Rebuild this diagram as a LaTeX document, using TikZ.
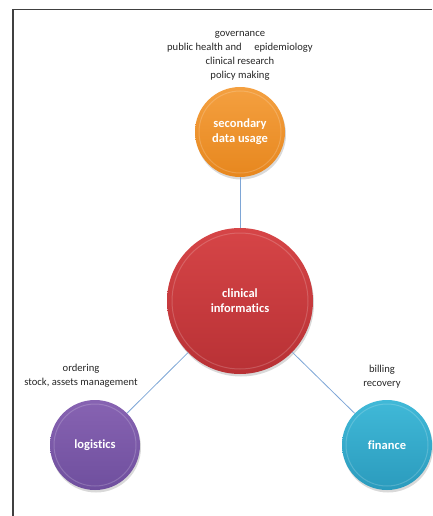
\documentclass[tikz,border=0pt]{standalone}
\usepackage{fontspec}
\setmainfont{Carlito}[Ligatures=CommonOff]
\usetikzlibrary{shadows}
\definecolor{linkblue}{HTML}{7EA6D6}
\definecolor{orangetop}{HTML}{F4A040}
\definecolor{orangebot}{HTML}{E7871E}
\definecolor{redtop}{HTML}{D64547}
\definecolor{redbot}{HTML}{B83135}
\definecolor{purpletop}{HTML}{8763B2}
\definecolor{purplebot}{HTML}{6F4F9E}
\definecolor{bluetop}{HTML}{40B9D8}
\definecolor{bluebot}{HTML}{2B9BBD}
\begin{document}
\begin{tikzpicture}[x=1pt,y=-1pt,
  ball/.style={circle,minimum size=90pt,inner sep=0pt,text=white,align=center,
    font=\bfseries\fontsize{12.5}{15}\selectfont,
    drop shadow={opacity=0.3,shadow xshift=1pt,shadow yshift=-2.5pt}},
  rim/.style={white,opacity=0.18,line width=1pt},
  note/.style={align=center,inner sep=0pt,text=black!85,font=\fontsize{10.6}{14}\selectfont},
  link/.style={draw=linkblue,line width=0.8pt}]
\useasboundingbox (0,0) rectangle (432,516);
% frame
\draw[black!75,line width=1.2pt] (13,516) -- (13,9.5) -- (432,9.5);
% circles
\node[ball,top color=orangetop,bottom color=orangebot] (sec) at (240,132) {secondary\\data usage};
\node[ball,minimum size=146pt,top color=redtop,bottom color=redbot] (clin) at (240,301) {clinical\\informatics};
\node[ball,top color=purpletop,bottom color=purplebot] (log) at (95,445) {logistics};
\node[ball,top color=bluetop,bottom color=bluebot] (fin) at (387,445) {finance};
\draw[rim] (sec.center) circle[radius=41pt];
\draw[rim] (clin.center) circle[radius=68pt];
\draw[rim] (log.center) circle[radius=41pt];
\draw[rim] (fin.center) circle[radius=41pt];
% connectors
\draw[link] (sec) -- (clin);
\draw[link] (clin) -- (log);
\draw[link] (clin) -- (fin);
% notes
\node[note] (uses) at (240,56) {governance\\public health and\hspace{1.2em}epidemiology\\clinical research\\policy making};
\node[note] (logtasks) at (81,375.5) {ordering\\stock, assets management};
\node[note] (fintasks) at (382,376.5) {billing\\recovery};
\end{tikzpicture}
\end{document}
